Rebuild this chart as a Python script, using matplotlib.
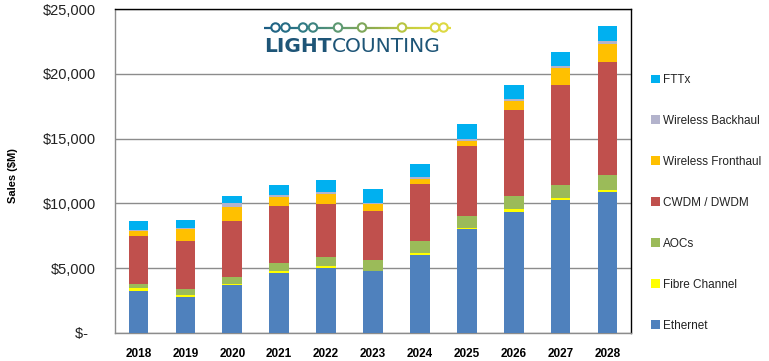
#!/usr/bin/env python3
"""
Vendas de transceptores ópticos por segmento (LightCounting), 2018-2028.
Barras empilhadas + logo desenhado à mão.
"""

import numpy as np
import matplotlib
matplotlib.use( "Agg" )
import matplotlib.pyplot as plt
from matplotlib.collections import LineCollection
from matplotlib.colors import LinearSegmentedColormap
from matplotlib.patches import Circle

# ── Dados ($M) ───────────────────────────────────────────────────────────────
YEARS = [ "2018", "2019", "2020", "2021", "2022", "2023",
          "2024", "2025", "2026", "2027", "2028" ]

ETHERNET = [ 3220, 2740, 3690, 4590, 5020, 4770, 5980, 8010, 9350, 10260, 10900 ]
FIBRE_CHANNEL = [ 250, 150, 100, 180, 130, 30, 180, 100, 190, 170, 130 ]
AOCS = [ 300, 490, 510, 590, 700, 800, 930, 910, 1020, 980, 1160 ]
CWDM_DWDM = [ 3700, 3680, 4330, 4430, 4100, 3780, 4400, 5410, 6650, 7730, 8750 ]
FRONTHAUL = [ 370, 950, 1110, 670, 750, 550, 360, 360, 720, 1290, 1370 ]
BACKHAUL = [ 70, 80, 260, 160, 170, 100, 210, 180, 150, 200, 260 ]
FTTX = [ 720, 620, 560, 820, 930, 1060, 980, 1130, 1060, 1090, 1130 ]

SERIES = [
    ("Ethernet", ETHERNET, "#4F81BD"),
    ("Fibre Channel", FIBRE_CHANNEL, "#FFFF00"),
    ("AOCs", AOCS, "#9BBB59"),
    ("CWDM / DWDM", CWDM_DWDM, "#C0504D"),
    ("Wireless Fronthaul", FRONTHAUL, "#FFC000"),
    ("Wireless Backhaul", BACKHAUL, "#B3B3CC"),
    ("FTTx", FTTX, "#00B0F0"),
]

Y_TICKS = [ 0, 5000, 10000, 15000, 20000, 25000 ]

# ── Layout (pixels) ──────────────────────────────────────────────────────────
W, H = 769, 361
AX_L, AX_R, AX_T, AX_B = 115, 631, 9.3, 332.7
LOGO_BLUE = "#1E5577"
GRID = "#8C8C8C"


def money( v ):
    return "$-  " if v == 0 else f"${v:,}"


def draw_logo( fig ):
    ov = fig.add_axes( [ 0, 0, 1, 1 ], zorder = 5 )
    ov.set_xlim( 0, W )
    ov.set_ylim( H, 0 )
    ov.axis( "off" )
    ov.patch.set_alpha( 0 )

    cmap = LinearSegmentedColormap.from_list(
        "lc", [ "#1B5C84", "#2F7A86", "#5E9A72", "#93AE4C", "#C9CF3E", "#E2DC44" ] )
    x0, x1, yl = 264, 451, 27.5
    xs = np.linspace( x0, x1, 60 )
    segs = [ [ (xs[ i ], yl), (xs[ i + 1 ], yl) ] for i in range( len( xs ) - 1 ) ]
    lc = LineCollection( segs, colors = cmap( np.linspace( 0, 1, len( segs ) ) ), linewidths = 1.6 )
    ov.add_collection( lc )
    for cx in [ 275.5, 285.5, 303, 313, 338, 362, 402, 435, 443.5 ]:
        c = cmap( (cx - x0) / (x1 - x0) )
        ov.add_patch( Circle( (cx, yl), 4.2, facecolor = "white", edgecolor = c, lw = 1.5, zorder = 3 ) )

    t1 = ov.text( 264, 47, "LIGHT", fontsize = 14.5, fontweight = "bold", color = LOGO_BLUE,
                  family = "DejaVu Sans", ha = "left", va = "center" )
    fig.canvas.draw()
    bb = t1.get_window_extent()
    x_end = bb.x1  # pixels, origem embaixo; x igual
    ov.text( x_end + 0.5, 47, "COUNTING", fontsize = 14.5, color = LOGO_BLUE,
             family = "DejaVu Sans", ha = "left", va = "center" )


def main():
    plt.rcParams[ "font.family" ] = [ "Liberation Sans", "DejaVu Sans" ]

    fig = plt.figure( figsize = (W / 100, H / 100), dpi = 100 )
    ax = fig.add_axes( [ AX_L / W, 1 - AX_B / H, (AX_R - AX_L) / W, (AX_B - AX_T) / H ] )

    x = np.arange( len( YEARS ) )
    bottom = np.zeros( len( YEARS ) )
    handles = [ ]
    for name, vals, color in SERIES:
        vals = np.array( vals, dtype = float )
        b = ax.bar( x, vals, 0.42, bottom = bottom, color = color, label = name,
                    linewidth = 0, zorder = 3 )
        handles.append( b )
        bottom += vals

    ax.set_xlim( -0.5, len( YEARS ) - 0.5 )
    ax.set_ylim( 0, 25000 )
    ax.set_yticks( Y_TICKS )
    ax.set_yticklabels( [ money( v ) for v in Y_TICKS ], fontsize = 10.5, color = "#222222" )
    ax.set_xticks( x )
    ax.set_xticklabels( YEARS, fontsize = 8.5, fontweight = "bold" )
    ax.tick_params( axis = "y", length = 0, pad = 13.5 )
    ax.tick_params( axis = "x", length = 0, pad = 11 )
    ax.yaxis.grid( True, color = GRID, lw = 1, zorder = 0 )

    for s in ("top", "right"):
        ax.spines[ s ].set_color( "black" )
    for s in ("left", "bottom"):
        ax.spines[ s ].set_color( GRID )
    for s in ax.spines.values():
        s.set_linewidth( 1 )

    fig.text( 13 / W, 1 - 176 / H, "Sales ($M)", rotation = 90, fontsize = 8,
              fontweight = "bold", ha = "center", va = "center" )

    # legenda: ordem invertida (FTTx em cima)
    leg = fig.legend( handles[ ::-1 ], [ s[ 0 ] for s in SERIES ][ ::-1 ],
                      loc = "upper left", bbox_to_anchor = (651 / W, 1 - 74 / H),
                      frameon = False, fontsize = 8.5, handlelength = 0.75,
                      handleheight = 0.75, handletextpad = 0.25,
                      labelspacing = 2.45, borderaxespad = 0, borderpad = 0 )
    for t in leg.get_texts():
        t.set_color( "#222222" )

    draw_logo( fig )

    fig.savefig( "out.png", dpi = 100 )
    plt.close( fig )


if __name__ == "__main__":
    main()
